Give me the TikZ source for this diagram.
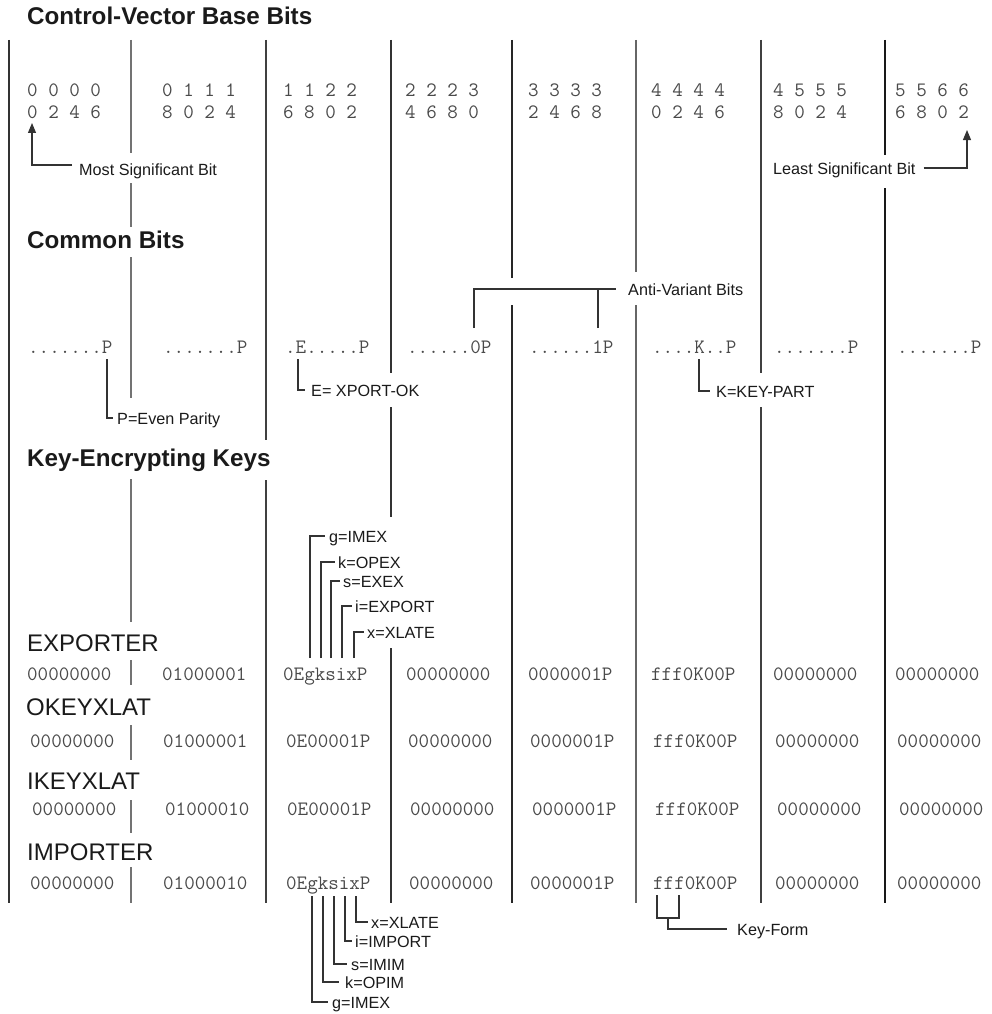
\documentclass[tikz,border=0pt]{standalone}
\usepackage{fontspec}
\setmainfont{Liberation Sans}
\usetikzlibrary{arrows.meta}
\definecolor{monoc}{HTML}{4A4A4A}
\definecolor{labc}{HTML}{1A1A1A}
\definecolor{coc}{HTML}{333333}
\tikzset{
  hd/.style={font=\bfseries\fontsize{24.2}{28}\selectfont, anchor=base west, inner sep=0pt, text=labc},
  kh/.style={font=\fontsize{24}{28}\selectfont, anchor=base west, inner sep=0pt, text=labc},
  lbl/.style={font=\fontsize{16.2}{19}\selectfont, anchor=base west, inner sep=0pt, text=labc},
  bits/.style={font=\ttfamily\fontsize{20.45}{24}\selectfont, anchor=base west, inner sep=0pt, text=monoc},
  sep/.style={line width=1.5pt},
  co/.style={line width=1.1pt, draw=coc},
  arr/.style={-{Triangle[length=10pt,width=8pt]}}
}
\begin{document}
\begin{tikzpicture}[x=1pt,y=-1pt]
\useasboundingbox (0,0) rectangle (991,1014);
% column separators
\draw[sep,draw=black!80] (9,40) -- (9,903);
\draw[sep,draw=black!55] (131,40) -- (131,153) (131,183) -- (131,227) (131,257) -- (131,398)
  (131,479) -- (131,622) (131,660) -- (131,685) (131,725) -- (131,760) (131,800) -- (131,833) (131,867) -- (131,903);
\draw[sep,draw=black!75] (266,40) -- (266,440) (266,480) -- (266,903);
\draw[sep,draw=black!80] (391,40) -- (391,373) (391,407) -- (391,517) (391,648) -- (391,903);
\draw[sep,draw=black!85] (512,40) -- (512,278) (512,305) -- (512,903);
\draw[sep,draw=black!60] (636,40) -- (636,272) (636,305) -- (636,903);
\draw[sep,draw=black!75] (761,40) -- (761,373) (761,407) -- (761,903);
\draw[sep,draw=black!90] (885,40) -- (885,155) (885,188) -- (885,903);

% headings
\node[hd] (title) at (27,25) {Control-Vector Base Bits};
\node[hd] (common) at (27,248) {Common Bits};
\node[hd] (kek) at (27,466) {Key-Encrypting Keys};

% bit numbers
\node[bits] (n11) at (27,97) {0 0 0 0};  \node[bits] (n12) at (27,118) {0 2 4 6};
\node[bits] (n21) at (162,97) {0 1 1 1}; \node[bits] (n22) at (162,118) {8 0 2 4};
\node[bits] (n31) at (283,97) {1 1 2 2}; \node[bits] (n32) at (283,118) {6 8 0 2};
\node[bits] (n41) at (405,97) {2 2 2 3}; \node[bits] (n42) at (405,118) {4 6 8 0};
\node[bits] (n51) at (528,97) {3 3 3 3}; \node[bits] (n52) at (528,118) {2 4 6 8};
\node[bits] (n61) at (651,97) {4 4 4 4}; \node[bits] (n62) at (651,118) {0 2 4 6};
\node[bits] (n71) at (773,97) {4 5 5 5}; \node[bits] (n72) at (773,118) {8 0 2 4};
\node[bits] (n81) at (895,97) {5 5 6 6}; \node[bits] (n82) at (895,118) {6 8 0 2};

\node[lbl] (msb) at (79,175) {Most Significant Bit};
\node[lbl] (lsb) at (773,174) {Least Significant Bit};
\coordinate (msbtip) at (32,123);
\coordinate (lsbtip) at (967,130);
\draw[co,arr] ([shift={(-7,-10)}]msb.base west) -| (msbtip);
\draw[co,arr] ([shift={(8,-6)}]lsb.base east) -| (lsbtip);

% common bits
\node[bits] (c1) at (28,353) {.......P};
\node[bits] (c2) at (163,353) {.......P};
\node[bits] (c3) at (285,353) {.E.....P};
\node[bits] (c4) at (407,353) {......0P};
\node[bits] (c5) at (529,353) {......1P};
\node[bits] (c6) at (652,353) {....K..P};
\node[bits] (c7) at (774,353) {.......P};
\node[bits] (c8) at (897,353) {.......P};

\node[lbl] (par) at (117,424) {P=Even Parity};
\node[lbl] (xok) at (311,396) {E= XPORT-OK};
\node[lbl] (kp) at (716,397) {K=KEY-PART};
\node[lbl] (avb) at (628,295) {Anti-Variant Bits};
\coordinate (pstub) at (107,359);
\coordinate (estub) at (298,359);
\coordinate (kstub) at (699,359);
\coordinate (av0) at (474,328);
\coordinate (av1) at (598,328);
\coordinate (avj) at (598,289);
\draw[co] (pstub) |- ([shift={(-4,-6)}]par.base west);
\draw[co] (estub) |- ([shift={(-6,-6)}]xok.base west);
\draw[co] (kstub) |- ([shift={(-6,-6)}]kp.base west);
\draw[co] (av0) |- ([shift={(-12,-6)}]avb.base west);
\draw[co] (av1) -- (avj);

% key-encrypting keys
\node[kh] (hexp) at (27,651) {EXPORTER};
\node[kh] (hoke) at (26,715) {OKEYXLAT};
\node[kh] (hike) at (27,789) {IKEYXLAT};
\node[kh] (himp) at (27,860) {IMPORTER};

\node[bits] (e1) at (27,680) {00000000};
\node[bits] (e2) at (162,680) {01000001};
\node[bits] (e3) at (283,680) {0EgksixP};
\node[bits] (e4) at (406,680) {00000000};
\node[bits] (e5) at (528,680) {0000001P};
\node[bits] (e6) at (651,680) {fff0K00P};
\node[bits] (e7) at (773,680) {00000000};
\node[bits] (e8) at (895,680) {00000000};

\node[bits] (o1) at (30,747) {00000000};
\node[bits] (o2) at (163,747) {01000001};
\node[bits] (o3) at (286,747) {0E00001P};
\node[bits] (o4) at (408,747) {00000000};
\node[bits] (o5) at (530,747) {0000001P};
\node[bits] (o6) at (653,747) {fff0K00P};
\node[bits] (o7) at (775,747) {00000000};
\node[bits] (o8) at (897,747) {00000000};

\node[bits] (i1) at (32,815) {00000000};
\node[bits] (i2) at (165,815) {01000010};
\node[bits] (i3) at (287,815) {0E00001P};
\node[bits] (i4) at (410,815) {00000000};
\node[bits] (i5) at (532,815) {0000001P};
\node[bits] (i6) at (655,815) {fff0K00P};
\node[bits] (i7) at (777,815) {00000000};
\node[bits] (i8) at (899,815) {00000000};

\node[bits] (m1) at (30,889) {00000000};
\node[bits] (m2) at (163,889) {01000010};
\node[bits] (m3) at (286,889) {0EgksixP};
\node[bits] (m4) at (409,889) {00000000};
\node[bits] (m5) at (530,889) {0000001P};
\node[bits] (m6) at (653,889) {fff0K00P};
\node[bits] (m7) at (775,889) {00000000};
\node[bits] (m8) at (897,889) {00000000};

% exporter callouts
\node[lbl] (eg) at (329,542) {g=IMEX};
\node[lbl] (ek) at (338,568) {k=OPEX};
\node[lbl] (es) at (343,587) {s=EXEX};
\node[lbl] (ei) at (355,612) {i=EXPORT};
\node[lbl] (ex) at (367,638) {x=XLATE};
\coordinate (egs) at (310,658);
\coordinate (eks) at (321,658);
\coordinate (ess) at (331,658);
\coordinate (eis) at (342,658);
\coordinate (exs) at (354,658);
\draw[co] (egs) |- ([shift={(-4,-6)}]eg.base west);
\draw[co] (eks) |- ([shift={(-3,-6)}]ek.base west);
\draw[co] (ess) |- ([shift={(-3,-6)}]es.base west);
\draw[co] (eis) |- ([shift={(-3,-6)}]ei.base west);
\draw[co] (exs) |- ([shift={(-3,-6)}]ex.base west);

% importer callouts
\node[lbl] (mx) at (371,928) {x=XLATE};
\node[lbl] (mi) at (355,947) {i=IMPORT};
\node[lbl] (ms) at (351,970) {s=IMIM};
\node[lbl] (mk) at (345,988) {k=OPIM};
\node[lbl] (mg) at (332,1008) {g=IMEX};
\coordinate (mxs) at (356,896);
\coordinate (mis) at (345,896);
\coordinate (mss) at (334,896);
\coordinate (mks) at (323,896);
\coordinate (mgs) at (312,896);
\draw[co] (mxs) |- ([shift={(-3,-6)}]mx.base west);
\draw[co] (mis) |- ([shift={(-3,-6)}]mi.base west);
\draw[co] (mss) |- ([shift={(-4,-6)}]ms.base west);
\draw[co] (mks) |- ([shift={(-6,-6)}]mk.base west);
\draw[co] (mgs) |- ([shift={(-4,-6)}]mg.base west);

% key-form
\node[lbl] (kf) at (737,935) {Key-Form};
\coordinate (kfa) at (657,895);
\coordinate (kfb) at (679,895);
\coordinate (kfm) at (668,918);
\draw[co] (kfa) -- (657,918) -- (679,918) -- (kfb);
\draw[co] (kfm) |- ([shift={(-10,-6)}]kf.base west);
\end{tikzpicture}
\end{document}
